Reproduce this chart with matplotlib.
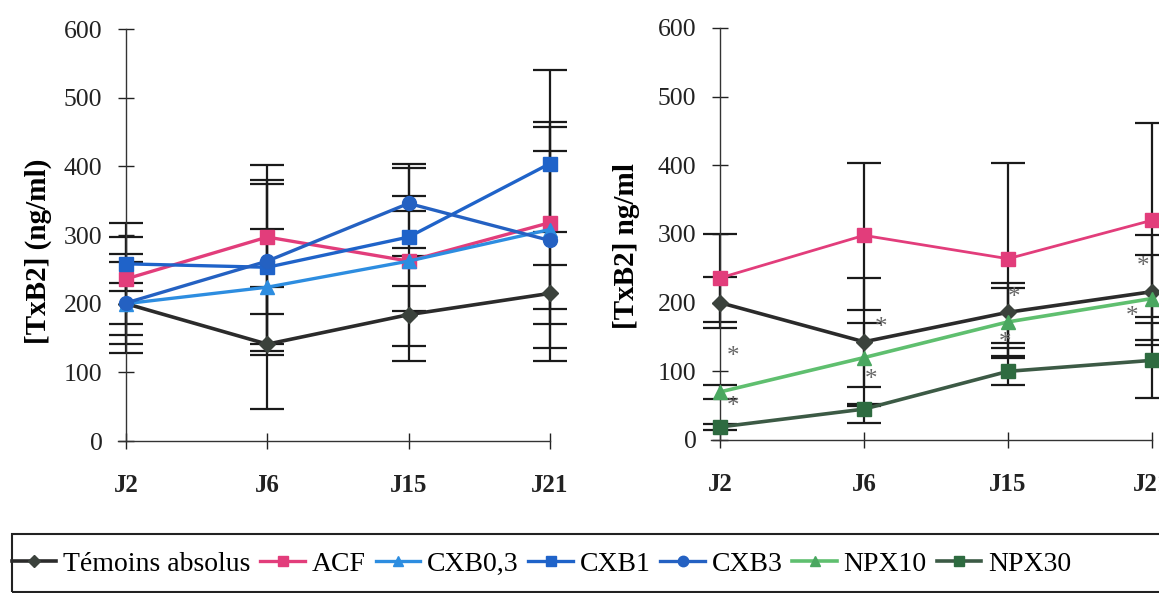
import numpy as np
import matplotlib
matplotlib.use('Agg')
import matplotlib.pyplot as plt
from matplotlib.patches import Rectangle

plt.rcParams['font.family'] = ['Liberation Serif', 'DejaVu Serif']

days = ['J2', 'J6', 'J15', 'J21']

# left panel (means)
temoins_L = [200, 141, 184, 215]
acf_L = [236, 297, 262, 318]
cxb03 = [200, 224, 262, 308]
cxb1 = [258, 253, 297, 404]
cxb3 = [201, 262, 346, 292]

# left panel error bar ends (upper / lower)
temoins_L_hi = [272, 225, 226, 257]
temoins_L_lo = [128, 47, 138, 116]
acf_L_hi = [318, 402, 403, 464]
acf_L_lo = [155, 125, 116, 170]
cxb03_hi = [230, 309, 270, 457]
cxb03_lo = [170, 141, 190, 192]
cxb1_hi = [297, 380, 398, 540]
cxb1_lo = [219, 131, 281, 305]
cxb3_hi = [261, 374, 357, 423]
cxb3_lo = [141, 185, 335, 136]

# right panel (means)
temoins_R = [200, 143, 186, 216]
acf_R = [236, 298, 264, 320]
npx10 = [70, 120, 172, 206]
npx30 = [19, 45, 100, 116]

temoins_R_hi = [237, 236, 228, 269]
temoins_R_lo = [163, 50, 141, 146]
acf_R_hi = [300, 404, 403, 461]
acf_R_lo = [172, 189, 119, 179]
npx10_hi = [80, 170, 222, 298]
npx10_lo = [60, 77, 122, 138]
npx30_hi = [24, 52, 134, 171]
npx30_lo = [14, 25, 80, 61]

# significance stars (x offset from category, y value)
star_x = [0.09, 0.09, 1.12, 1.05, 2.045, 1.98, 2.935, 2.86]
star_y = [121, 48, 163, 87, 207, 141, 252, 179]

W, H = 1159, 593
fig = plt.figure(figsize=(W / 100, H / 100), dpi=100)

def make_axes(left_px, step_px, y0_px, y600_px):
    x0 = left_px - 0.06 * step_px
    ax = fig.add_axes([x0 / W, (H - y0_px) / H, 3.06 * step_px / W, (y0_px - y600_px) / H])
    ax.set_xlim(-0.06, 3.0)
    ax.set_ylim(0, 600)
    ax.spines['top'].set_visible(False)
    ax.spines['right'].set_visible(False)
    ax.spines['left'].set_position(('data', 0))
    for s in ['left', 'bottom']:
        ax.spines[s].set_linewidth(1.0)
        ax.spines[s].set_color('#333333')
    ax.set_yticks(range(0, 601, 100))
    ax.set_xticks(range(4))
    ax.set_xticklabels(days, fontweight='bold', fontsize=18)
    ax.tick_params(axis='y', direction='inout', length=12, width=1, pad=11,
                   labelsize=18.5, colors='#222222')
    ax.tick_params(axis='x', direction='inout', length=12, width=1, pad=18,
                   colors='#222222')
    ax.patch.set_alpha(0)
    return ax

def series(ax, y, hi, lo, color, marker, ms, lw, mfc=None, label=None):
    x = np.arange(len(y))
    y = np.array(y)
    yerr = [y - np.array(lo), np.array(hi) - y]
    ax.errorbar(x, y, yerr=yerr, fmt='none', ecolor='#1a1a1a', elinewidth=1.6,
                capsize=12, capthick=1.6, zorder=2, clip_on=False)
    ax.plot(x, y, color=color, lw=lw, marker=marker, ms=ms,
            mfc=mfc or color, mec=mfc or color, zorder=3, clip_on=False, label=label)

axL = make_axes(126, 141.3, 441, 29)
series(axL, temoins_L, temoins_L_hi, temoins_L_lo, '#2b2b2b', 'D', 8, 2.6, '#3b423c', 'Témoins absolus')
series(axL, acf_L, acf_L_hi, acf_L_lo, '#e23d7b', 's', 10, 2.4, None, 'ACF')
series(axL, cxb03, cxb03_hi, cxb03_lo, '#2d8de0', '^', 10, 2.4, None, 'CXB0,3')
series(axL, cxb1, cxb1_hi, cxb1_lo, '#1f63c9', 's', 10, 2.4, None, 'CXB1')
series(axL, cxb3, cxb3_hi, cxb3_lo, '#2461c2', 'o', 10, 2.4, None, 'CXB3')
axL.set_ylabel('[TxB2] (ng/ml)', fontweight='bold', fontsize=21)
axL.yaxis.set_label_coords(-0.152, 0.46)

axR = make_axes(720, 144, 440, 28)
series(axR, acf_R, acf_R_hi, acf_R_lo, '#e23d7b', 's', 10, 2.0)
series(axR, temoins_R, temoins_R_hi, temoins_R_lo, '#2b2b2b', 'D', 8, 2.6, '#3b423c')
series(axR, npx10, npx10_hi, npx10_lo, '#5fbf6f', '^', 10, 2.6, '#4aa760', 'NPX10')
series(axR, npx30, npx30_hi, npx30_lo, '#3c5a45', 's', 10, 2.6, '#2e6b40', 'NPX30')
axR.set_ylabel('[TxB2] ng/ml', fontweight='bold', fontsize=21)
axR.yaxis.set_label_coords(-0.161, 0.47)
for sx, sy in zip(star_x, star_y):
    axR.text(sx, sy, '*', fontsize=18, color='#666666', ha='center', va='center',
             zorder=5, clip_on=False)

# legend box
fig.patches.append(Rectangle((12 / W, 1 / H), 1.2, (H - 535) / H, transform=fig.transFigure,
                             fill=False, edgecolor='#222222', lw=1.5))
hL, lL = axL.get_legend_handles_labels()
hR, lR = axR.get_legend_handles_labels()
fig.legend(hL + hR, lL + lR, loc='center left', bbox_to_anchor=(12 / W, (H - 564) / H),
           ncol=7, frameon=False, fontsize=20, handlelength=1.6, handletextpad=0.25,
           columnspacing=0.35, borderaxespad=0, borderpad=0, markerscale=0.75)

fig.savefig('out.png', dpi=100)
